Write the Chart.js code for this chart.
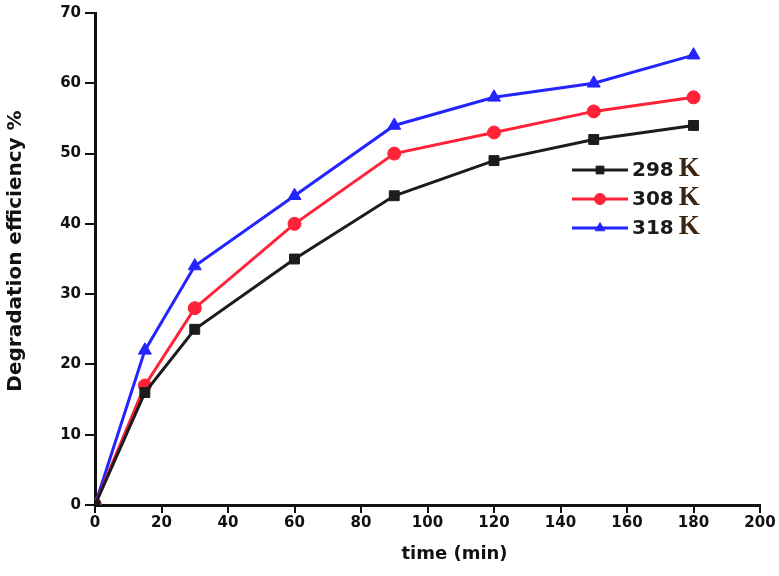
<!DOCTYPE html>
<html>
<head>
<meta charset="utf-8">
<script src="https://cdn.jsdelivr.net/npm/chart.js@4/dist/chart.umd.min.js"></script>
<style>
  html, body { margin: 0; padding: 0; background: #fff; }
  #wrap { width: 779px; height: 576px; }
</style>
</head>
<body>
<div id="wrap"><canvas id="chart" width="779" height="576"></canvas></div>
<script>
"use strict";

// data
var times = [0, 15, 30, 60, 90, 120, 150, 180];
var k298 = [0, 16, 25, 35, 44, 49, 52, 54];
var k308 = [0, 17, 28, 40, 50, 53, 56, 58];
var k318 = [0, 22, 34, 44, 54, 58, 60, 64];
var seriesLabels = ['298', '308', '318'];
var xTicks = [0, 20, 40, 60, 80, 100, 120, 140, 160, 180, 200];
var yTicks = [0, 10, 20, 30, 40, 50, 60, 70];

var SANS = '"DejaVu Sans", Verdana, sans-serif';
var SERIF = '"Liberation Serif", "Times New Roman", serif';

function toPoints(values) {
    return times.map(function (t, i) { return {x: t, y: values[i]}; });
}

function makeSet(label, values, color, style, radius) {
    return {
        label: label,
        data: toPoints(values),
        borderColor: color,
        backgroundColor: color,
        borderWidth: 3,
        pointStyle: style,
        pointRadius: radius,
        pointHoverRadius: radius,
        pointBorderWidth: 1,
        tension: 0
    };
}

// legend drawn inside the plot area, "298" in sans and "K" in serif
var innerLegend = {
    id: 'innerLegend',
    afterDraw: function (chart) {
        var ctx = chart.ctx;
        ctx.save();
        chart.data.datasets.forEach(function (ds, i) {
            var y = 170 + i * 29;
            ctx.strokeStyle = ds.borderColor;
            ctx.lineWidth = 3;
            ctx.beginPath();
            ctx.moveTo(572, y);
            ctx.lineTo(628, y);
            ctx.stroke();
            ctx.fillStyle = ds.backgroundColor;
            ctx.strokeStyle = ds.borderColor;
            ctx.lineWidth = 1;
            if (Chart.helpers && Chart.helpers.drawPoint) {
                Chart.helpers.drawPoint(ctx, {pointStyle: ds.pointStyle, radius: 5.5, rotation: 0, borderWidth: 1}, 600, y);
            } else {
                ctx.beginPath();
                ctx.arc(600, y, 5, 0, Math.PI * 2);
                ctx.fill();
            }
            ctx.textBaseline = 'middle';
            ctx.textAlign = 'left';
            ctx.fillStyle = '#1a1a1a';
            ctx.font = 'bold 20px ' + SANS;
            ctx.fillText(ds.label, 632, y + 1);
            var w = ctx.measureText(ds.label).width;
            ctx.fillStyle = '#3b2410';
            ctx.font = 'bold 27px ' + SERIF;
            ctx.fillText('K', 632 + w + 5, y - 1);
        });
        ctx.restore();
    }
};

// axis titles, placed where the original has them
var axisTitles = {
    id: 'axisTitles',
    afterDraw: function (chart) {
        var ctx = chart.ctx;
        var area = chart.chartArea;
        ctx.save();
        ctx.fillStyle = '#111';
        ctx.textAlign = 'center';
        ctx.textBaseline = 'middle';
        ctx.font = 'bold 18px ' + SANS;
        ctx.fillText('time (min)', (area.left + area.right) / 2 + 27, 554);
        ctx.translate(16, 251);
        ctx.rotate(-Math.PI / 2);
        ctx.font = 'bold 20px ' + SANS;
        ctx.fillText('Degradation efficiency %', 0, 0);
        ctx.restore();
    }
};

var tickFont = {family: SANS, size: 15, weight: 'bold'};

new Chart(document.getElementById('chart'), {
    type: 'line',
    data: {
        datasets: [
            makeSet(seriesLabels[0], k298, '#1c1c1c', 'rect', 7),
            makeSet(seriesLabels[1], k308, '#ff2238', 'circle', 6.5),
            makeSet(seriesLabels[2], k318, '#2424ff', 'triangle', 7.5)
        ]
    },
    options: {
        responsive: false,
        animation: false,
        devicePixelRatio: 1,
        layout: {padding: {top: 13, right: 19, left: 0, bottom: 0}},
        plugins: {
            legend: {display: false},
            tooltip: {enabled: false}
        },
        scales: {
            x: {
                type: 'linear',
                min: 0,
                max: 200,
                afterBuildTicks: function (scale) {
                    scale.ticks = xTicks.map(function (v) { return {value: v}; });
                },
                afterFit: function (scale) { scale.height = 71; },
                border: {display: true, color: '#111', width: 3},
                grid: {drawOnChartArea: false, drawTicks: true, tickLength: 8, color: '#111', lineWidth: 2},
                ticks: {color: '#111', padding: 1, maxRotation: 0, font: tickFont}
            },
            y: {
                type: 'linear',
                min: 0,
                max: 70,
                afterBuildTicks: function (scale) {
                    scale.ticks = yTicks.map(function (v) { return {value: v}; });
                },
                afterFit: function (scale) { scale.width = 95; },
                border: {display: true, color: '#111', width: 3},
                grid: {drawOnChartArea: false, drawTicks: true, tickLength: 10, color: '#111', lineWidth: 2},
                ticks: {color: '#111', padding: 4, font: tickFont}
            }
        }
    },
    plugins: [innerLegend, axisTitles]
});
</script>
</body>
</html>
